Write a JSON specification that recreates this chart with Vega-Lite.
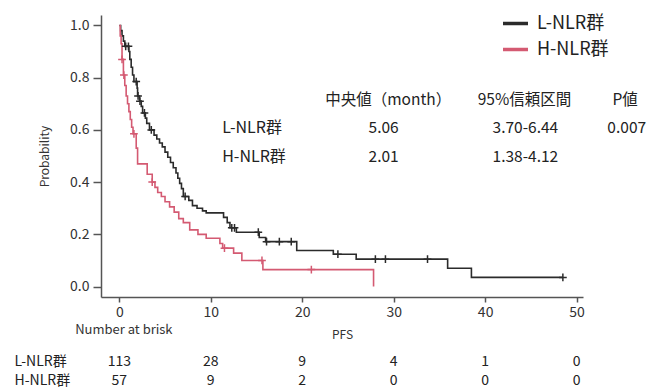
{
  "$schema": "https://vega.github.io/schema/vega-lite/v6.json",
  "width": 482,
  "height": 282,
  "autosize": {"type": "none"},
  "padding": {"left": 101, "top": 15, "right": 66, "bottom": 93},
  "background": "white",
  "config": {
    "view": {"stroke": null},
    "font": "Noto Sans CJK JP",
    "axis": {"domainColor": "#555", "domainWidth": 1.5, "tickColor": "#555", "tickWidth": 1.5, "labelColor": "#333", "labelFont": "Noto Sans CJK JP", "labelFontSize": 14, "titleFont": "Noto Sans CJK JP", "titleFontSize": 12, "titleFontWeight": "normal", "titleColor": "#333", "grid": false, "labelFlush": false},
    "text": {"font": "Noto Sans CJK JP", "color": "#333"}
  },
  "datasets": {
    "curves": [
      {"group": "L-NLR群", "t": 0, "p": 1.0}, {"group": "L-NLR群", "t": 0.15, "p": 0.98}, {"group": "L-NLR群", "t": 0.3, "p": 0.96}, {"group": "L-NLR群", "t": 0.45, "p": 0.94}, {"group": "L-NLR群", "t": 0.6, "p": 0.92}, {"group": "L-NLR群", "t": 1.05, "p": 0.90}, {"group": "L-NLR群", "t": 1.15, "p": 0.87}, {"group": "L-NLR群", "t": 1.3, "p": 0.84}, {"group": "L-NLR群", "t": 1.45, "p": 0.81}, {"group": "L-NLR群", "t": 1.6, "p": 0.785}, {"group": "L-NLR群", "t": 1.95, "p": 0.76}, {"group": "L-NLR群", "t": 2.0, "p": 0.73}, {"group": "L-NLR群", "t": 2.2, "p": 0.71}, {"group": "L-NLR群", "t": 2.4, "p": 0.69}, {"group": "L-NLR群", "t": 2.55, "p": 0.665}, {"group": "L-NLR群", "t": 2.85, "p": 0.645}, {"group": "L-NLR群", "t": 3.0, "p": 0.625}, {"group": "L-NLR群", "t": 3.3, "p": 0.60}, {"group": "L-NLR群", "t": 3.8, "p": 0.58}, {"group": "L-NLR群", "t": 4.1, "p": 0.565}, {"group": "L-NLR群", "t": 4.4, "p": 0.55}, {"group": "L-NLR群", "t": 4.7, "p": 0.535}, {"group": "L-NLR群", "t": 5.0, "p": 0.515}, {"group": "L-NLR群", "t": 5.3, "p": 0.495}, {"group": "L-NLR群", "t": 5.6, "p": 0.475}, {"group": "L-NLR群", "t": 5.9, "p": 0.455}, {"group": "L-NLR群", "t": 6.2, "p": 0.435}, {"group": "L-NLR群", "t": 6.4, "p": 0.415}, {"group": "L-NLR群", "t": 6.6, "p": 0.395}, {"group": "L-NLR群", "t": 6.8, "p": 0.375}, {"group": "L-NLR群", "t": 7.0, "p": 0.345}, {"group": "L-NLR群", "t": 7.6, "p": 0.33}, {"group": "L-NLR群", "t": 8.0, "p": 0.31}, {"group": "L-NLR群", "t": 8.5, "p": 0.30}, {"group": "L-NLR群", "t": 9.1, "p": 0.29}, {"group": "L-NLR群", "t": 9.5, "p": 0.282}, {"group": "L-NLR群", "t": 11.4, "p": 0.265}, {"group": "L-NLR群", "t": 11.8, "p": 0.245}, {"group": "L-NLR群", "t": 12.1, "p": 0.225}, {"group": "L-NLR群", "t": 12.8, "p": 0.208}, {"group": "L-NLR群", "t": 15.3, "p": 0.188}, {"group": "L-NLR群", "t": 16.0, "p": 0.172}, {"group": "L-NLR群", "t": 19.4, "p": 0.138}, {"group": "L-NLR群", "t": 23.4, "p": 0.124}, {"group": "L-NLR群", "t": 25.9, "p": 0.105}, {"group": "L-NLR群", "t": 35.9, "p": 0.07}, {"group": "L-NLR群", "t": 38.5, "p": 0.035}, {"group": "L-NLR群", "t": 48.5, "p": 0.035},
      {"group": "H-NLR群", "t": 0, "p": 1.0}, {"group": "H-NLR群", "t": 0.1, "p": 0.96}, {"group": "H-NLR群", "t": 0.2, "p": 0.93}, {"group": "H-NLR群", "t": 0.3, "p": 0.87}, {"group": "H-NLR群", "t": 0.45, "p": 0.81}, {"group": "H-NLR群", "t": 0.6, "p": 0.77}, {"group": "H-NLR群", "t": 0.75, "p": 0.73}, {"group": "H-NLR群", "t": 0.9, "p": 0.70}, {"group": "H-NLR群", "t": 1.05, "p": 0.67}, {"group": "H-NLR群", "t": 1.2, "p": 0.64}, {"group": "H-NLR群", "t": 1.35, "p": 0.61}, {"group": "H-NLR群", "t": 1.5, "p": 0.585}, {"group": "H-NLR群", "t": 1.85, "p": 0.53}, {"group": "H-NLR群", "t": 2.0, "p": 0.47}, {"group": "H-NLR群", "t": 3.05, "p": 0.43}, {"group": "H-NLR群", "t": 3.6, "p": 0.40}, {"group": "H-NLR群", "t": 3.9, "p": 0.38}, {"group": "H-NLR群", "t": 4.2, "p": 0.36}, {"group": "H-NLR群", "t": 4.6, "p": 0.345}, {"group": "H-NLR群", "t": 5.0, "p": 0.325}, {"group": "H-NLR群", "t": 5.5, "p": 0.305}, {"group": "H-NLR群", "t": 6.0, "p": 0.285}, {"group": "H-NLR群", "t": 6.5, "p": 0.26}, {"group": "H-NLR群", "t": 7.0, "p": 0.245}, {"group": "H-NLR群", "t": 7.7, "p": 0.217}, {"group": "H-NLR群", "t": 8.6, "p": 0.20}, {"group": "H-NLR群", "t": 9.5, "p": 0.185}, {"group": "H-NLR群", "t": 11.0, "p": 0.165}, {"group": "H-NLR群", "t": 11.3, "p": 0.147}, {"group": "H-NLR群", "t": 12.5, "p": 0.128}, {"group": "H-NLR群", "t": 13.4, "p": 0.10}, {"group": "H-NLR群", "t": 15.7, "p": 0.065}, {"group": "H-NLR群", "t": 27.8, "p": 0.0}
    ],
    "censors": [
      {"group": "L-NLR群", "t": 0.7, "p": 0.92}, {"group": "L-NLR群", "t": 1.0, "p": 0.92}, {"group": "L-NLR群", "t": 1.85, "p": 0.785}, {"group": "L-NLR群", "t": 2.05, "p": 0.73}, {"group": "L-NLR群", "t": 2.26, "p": 0.71}, {"group": "L-NLR群", "t": 2.75, "p": 0.665}, {"group": "L-NLR群", "t": 3.5, "p": 0.60}, {"group": "L-NLR群", "t": 7.2, "p": 0.345}, {"group": "L-NLR群", "t": 12.3, "p": 0.225}, {"group": "L-NLR群", "t": 12.6, "p": 0.225}, {"group": "L-NLR群", "t": 15.2, "p": 0.208}, {"group": "L-NLR群", "t": 16.1, "p": 0.172}, {"group": "L-NLR群", "t": 17.5, "p": 0.172}, {"group": "L-NLR群", "t": 18.8, "p": 0.172}, {"group": "L-NLR群", "t": 23.9, "p": 0.124}, {"group": "L-NLR群", "t": 28.0, "p": 0.105}, {"group": "L-NLR群", "t": 29.1, "p": 0.105}, {"group": "L-NLR群", "t": 33.7, "p": 0.105}, {"group": "L-NLR群", "t": 48.5, "p": 0.035},
      {"group": "H-NLR群", "t": 0.3, "p": 0.87}, {"group": "H-NLR群", "t": 0.5, "p": 0.81}, {"group": "H-NLR群", "t": 1.6, "p": 0.585}, {"group": "H-NLR群", "t": 3.6, "p": 0.40}, {"group": "H-NLR群", "t": 11.5, "p": 0.147}, {"group": "H-NLR群", "t": 15.6, "p": 0.10}, {"group": "H-NLR群", "t": 21.0, "p": 0.065}
    ],
    "risk": [
      {"group": "L-NLR群", "t": 0, "n": 113}, {"group": "L-NLR群", "t": 10, "n": 28}, {"group": "L-NLR群", "t": 20, "n": 9}, {"group": "L-NLR群", "t": 30, "n": 4}, {"group": "L-NLR群", "t": 40, "n": 1}, {"group": "L-NLR群", "t": 50, "n": 0},
      {"group": "H-NLR群", "t": 0, "n": 57}, {"group": "H-NLR群", "t": 10, "n": 9}, {"group": "H-NLR群", "t": 20, "n": 2}, {"group": "H-NLR群", "t": 30, "n": 0}, {"group": "H-NLR群", "t": 40, "n": 0}, {"group": "H-NLR群", "t": 50, "n": 0}
    ],
    "stats": [
      {"group": "L-NLR群", "median": "5.06", "ci": "3.70-6.44", "pval": "0.007"},
      {"group": "H-NLR群", "median": "2.01", "ci": "1.38-4.12", "pval": ""}
    ]
  },
  "layer": [
    {
      "data": {"name": "curves"},
      "mark": {"type": "line", "interpolate": "step-after", "strokeWidth": 1.6},
      "encoding": {
        "x": {"field": "t", "type": "quantitative", "scale": {"domain": [-2, 50.7], "nice": false, "zero": false},
              "axis": {"values": [0, 10, 20, 30, 40, 50], "tickSize": 5, "labelPadding": 3, "title": "PFS", "titlePadding": 10}},
        "y": {"field": "p", "type": "quantitative", "scale": {"domain": [-0.04, 1.04], "nice": false, "zero": false},
              "axis": {"values": [0, 0.2, 0.4, 0.6, 0.8, 1.0], "format": ".1f", "tickSize": 8, "labelPadding": 4, "title": "Probability", "titlePadding": 18}},
        "color": {"field": "group", "type": "nominal",
                  "scale": {"domain": ["L-NLR群", "H-NLR群"], "range": ["#2b2b2b", "#d45a72"]},
                  "legend": {"orient": "none", "legendX": 400, "legendY": -6, "title": null, "symbolType": "stroke", "symbolSize": 625, "symbolStrokeWidth": 3.5, "labelFontSize": 18, "labelFont": "Noto Sans CJK JP", "labelColor": "#222", "rowPadding": 2, "labelOffset": 7}}
      }
    },
    {
      "data": {"name": "censors"},
      "mark": {"type": "point", "shape": "M-1,0H1M0,-1V1", "filled": false, "size": 60, "strokeWidth": 1.5, "opacity": 1},
      "encoding": {
        "x": {"field": "t", "type": "quantitative"},
        "y": {"field": "p", "type": "quantitative"},
        "color": {"field": "group", "type": "nominal", "legend": null}
      }
    },
    {
      "data": {"values": [{"label": "中央値（month）", "t": 29.4}, {"label": "95%信頼区間", "t": 44.3}, {"label": "P値", "t": 55.3}]},
      "mark": {"type": "text", "fontSize": 15.5, "align": "center", "baseline": "middle", "color": "#222"},
      "encoding": {"x": {"field": "t", "type": "quantitative"}, "y": {"datum": 0.714}, "text": {"field": "label"}}
    },
    {
      "data": {"name": "stats"},
      "transform": [{"filter": "datum.group === 'L-NLR群'"}],
      "layer": [
        {"mark": {"type": "text", "fontSize": 16, "align": "left", "baseline": "middle", "color": "#222"}, "encoding": {"x": {"datum": 11.25}, "y": {"datum": 0.607}, "text": {"field": "group"}}},
        {"mark": {"type": "text", "fontSize": 15.5, "align": "center", "baseline": "middle", "color": "#222"}, "encoding": {"x": {"datum": 28.9}, "y": {"datum": 0.607}, "text": {"field": "median"}}},
        {"mark": {"type": "text", "fontSize": 15.5, "align": "center", "baseline": "middle", "color": "#222"}, "encoding": {"x": {"datum": 44.4}, "y": {"datum": 0.607}, "text": {"field": "ci"}}},
        {"mark": {"type": "text", "fontSize": 15.5, "align": "right", "baseline": "middle", "color": "#222"}, "encoding": {"x": {"datum": 57.6}, "y": {"datum": 0.607}, "text": {"field": "pval"}}}
      ]
    },
    {
      "data": {"name": "stats"},
      "transform": [{"filter": "datum.group === 'H-NLR群'"}],
      "layer": [
        {"mark": {"type": "text", "fontSize": 16, "align": "left", "baseline": "middle", "color": "#222"}, "encoding": {"x": {"datum": 11.25}, "y": {"datum": 0.496}, "text": {"field": "group"}}},
        {"mark": {"type": "text", "fontSize": 15.5, "align": "center", "baseline": "middle", "color": "#222"}, "encoding": {"x": {"datum": 28.9}, "y": {"datum": 0.496}, "text": {"field": "median"}}},
        {"mark": {"type": "text", "fontSize": 15.5, "align": "center", "baseline": "middle", "color": "#222"}, "encoding": {"x": {"datum": 44.4}, "y": {"datum": 0.496}, "text": {"field": "ci"}}}
      ]
    },
    {
      "data": {"values": [{"label": "Number at brisk"}]},
      "mark": {"type": "text", "fontSize": 13, "align": "center", "baseline": "middle", "color": "#333"},
      "encoding": {"x": {"datum": 0.5}, "y": {"datum": -0.165}, "text": {"field": "label"}}
    },
    {
      "data": {"name": "risk"},
      "transform": [{"filter": "datum.group === 'L-NLR群'"}],
      "mark": {"type": "text", "fontSize": 14, "align": "center", "baseline": "middle", "color": "#222"},
      "encoding": {"x": {"field": "t", "type": "quantitative"}, "y": {"datum": -0.289}, "text": {"field": "n"}}
    },
    {
      "data": {"name": "risk"},
      "transform": [{"filter": "datum.group === 'H-NLR群'"}],
      "mark": {"type": "text", "fontSize": 14, "align": "center", "baseline": "middle", "color": "#222"},
      "encoding": {"x": {"field": "t", "type": "quantitative"}, "y": {"datum": -0.362}, "text": {"field": "n"}}
    },
    {
      "data": {"name": "stats"},
      "transform": [{"filter": "datum.group === 'L-NLR群'"}],
      "mark": {"type": "text", "fontSize": 14, "align": "left", "baseline": "middle", "color": "#222"},
      "encoding": {"x": {"datum": -11.46}, "y": {"datum": -0.289}, "text": {"field": "group"}}
    },
    {
      "data": {"name": "stats"},
      "transform": [{"filter": "datum.group === 'H-NLR群'"}],
      "mark": {"type": "text", "fontSize": 14, "align": "left", "baseline": "middle", "color": "#222"},
      "encoding": {"x": {"datum": -11.46}, "y": {"datum": -0.362}, "text": {"field": "group"}}
    }
  ]
}
